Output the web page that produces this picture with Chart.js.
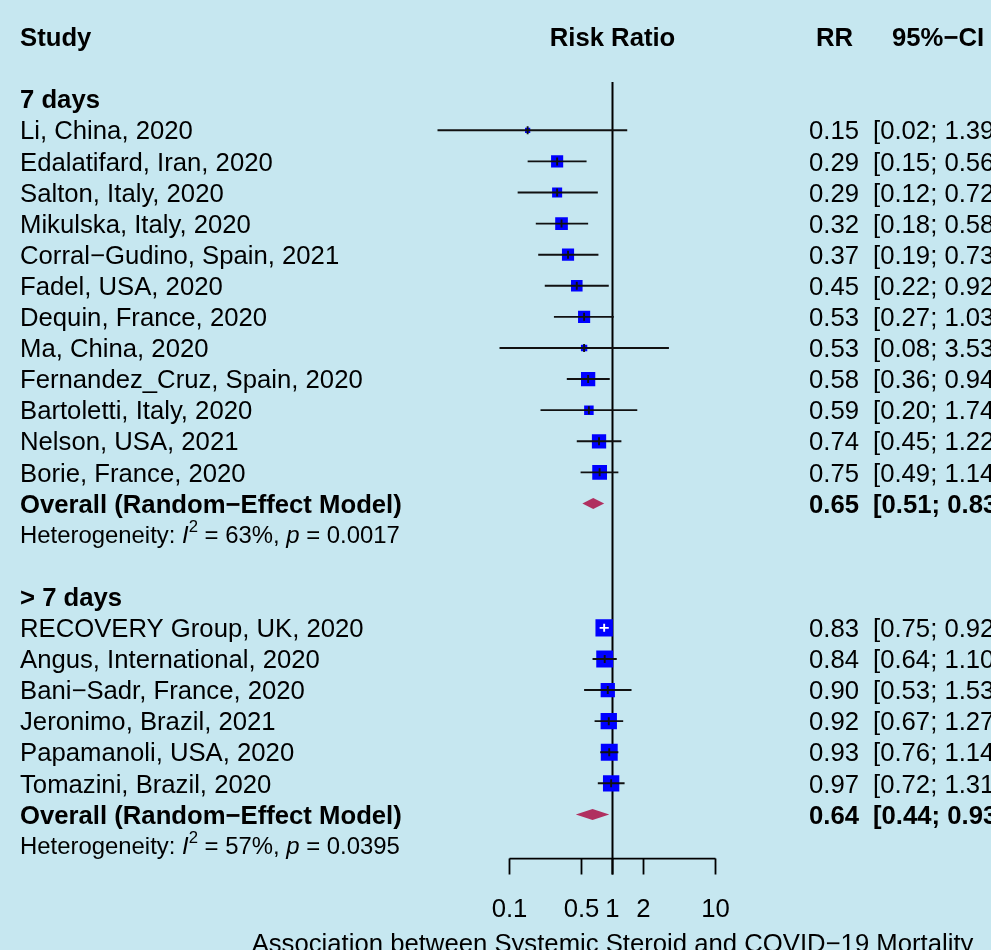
<!DOCTYPE html>
<html>
<head>
<meta charset="utf-8">
<title>Forest plot: systemic steroids and COVID-19 mortality</title>
<script src="https://cdn.jsdelivr.net/npm/chart.js@4.4.1/dist/chart.umd.min.js"></script>
<style>
  html, body { margin: 0; padding: 0; background: #c6e7f0; }
  canvas { display: block; }
</style>
</head>
<body>
<canvas id="forest" width="991" height="950"></canvas>
<script>
// ---- Data -------------------------------------------------------------
const groupNames = ['7 days', '> 7 days'];

const studyLabels = [
  'Li, China, 2020', 'Edalatifard, Iran, 2020', 'Salton, Italy, 2020',
  'Mikulska, Italy, 2020', 'Corral\u2212Gudino, Spain, 2021', 'Fadel, USA, 2020',
  'Dequin, France, 2020', 'Ma, China, 2020', 'Fernandez_Cruz, Spain, 2020',
  'Bartoletti, Italy, 2020', 'Nelson, USA, 2021', 'Borie, France, 2020',
  'RECOVERY Group, UK, 2020', 'Angus, International, 2020', 'Bani\u2212Sadr, France, 2020',
  'Jeronimo, Brazil, 2021', 'Papamanoli, USA, 2020', 'Tomazini, Brazil, 2020'
];
const studyGroup = [0, 0, 0, 0, 0, 0, 0, 0, 0, 0, 0, 0, 1, 1, 1, 1, 1, 1];
const riskRatio = [0.15, 0.29, 0.29, 0.32, 0.37, 0.45, 0.53, 0.53, 0.58, 0.59, 0.74, 0.75,
                   0.83, 0.84, 0.90, 0.92, 0.93, 0.97];
const ciLower   = [0.02, 0.15, 0.12, 0.18, 0.19, 0.22, 0.27, 0.08, 0.36, 0.20, 0.45, 0.49,
                   0.75, 0.64, 0.53, 0.67, 0.76, 0.72];
const ciUpper   = [1.39, 0.56, 0.72, 0.58, 0.73, 0.92, 1.03, 3.53, 0.94, 1.74, 1.22, 1.14,
                   0.92, 1.10, 1.53, 1.27, 1.14, 1.31];
// relative study weights (box area is proportional to weight)
const studyWeight = [1.9, 10.2, 7.0, 11.1, 10.2, 9.3, 10.2, 2.8, 14.1, 6.3, 14.1, 15.1,
                     21.0, 19.8, 14.1, 18.5, 19.8, 18.5];

const pooledRR    = [0.65, 0.64];
const pooledLower = [0.51, 0.44];
const pooledUpper = [0.83, 0.93];
const hetI2 = [63, 57];
const hetP  = ['0.0017', '0.0395'];

const xTicks = [0.1, 0.5, 1, 2, 10];
const xTickLabels = ['0.1', '0.5', '1', '2', '10'];
const axisTitle = 'Association between Systemic Steroid and COVID\u221219 Mortality';

// ---- Row layout (row index -> y value on the row scale) -----------------
const rows = [];
rows.push({ type: 'header' });
rows.push({ type: 'blank' });
groupNames.forEach((g, gi) => {
  if (gi > 0) rows.push({ type: 'blank' });
  rows.push({ type: 'group', label: g });
  studyGroup.forEach((sg, i) => { if (sg === gi) rows.push({ type: 'study', idx: i }); });
  rows.push({ type: 'pooled', idx: gi });
  rows.push({ type: 'het', idx: gi });
});

const studyPoints = [];
rows.forEach((r, ri) => { if (r.type === 'study') studyPoints.push({ x: riskRatio[r.idx], y: ri, idx: r.idx }); });

// ---- Style ----------------------------------------------------------------
const FONT = '"Liberation Sans", Arial, Helvetica, sans-serif';
const FS = 25.7;
const HET_FS = 23.9;
const BG = '#c6e7f0';
const BOX = '#0000ff';
const DIAMOND = '#b03060';
const BOX_SCALE = 3.8;     // box side = BOX_SCALE * sqrt(weight)

const COL_STUDY = 20, COL_RR = 809, COL_CI = 873, COL_RR_HEAD = 816, COL_CI_HEAD = 892;
const REF_TOP_ROW = 1.45, AXIS_ROW = 26.42, TICK_LEN = 16;
const TICKLABEL_BASE = 917, TITLE_BASE = 952;

function boxSide(i) { return BOX_SCALE * Math.sqrt(studyWeight[i]); }
function font(size, weight, style) { return (style || '') + ' ' + (weight || 'normal') + ' ' + size + 'px ' + FONT; }
function textAt(ctx, str, x, yMid, size, weight, align) {
  ctx.font = font(size, weight);
  ctx.textAlign = align || 'left';
  ctx.textBaseline = 'alphabetic';
  ctx.fillText(str, x, yMid + 0.358 * size);
}

const forestPlugin = {
  id: 'forest',
  beforeDraw(chart) {
    const ctx = chart.ctx;
    ctx.save();
    ctx.fillStyle = BG;
    ctx.fillRect(0, 0, chart.width, chart.height);
    ctx.restore();
  },
  beforeDatasetsDraw(chart) {
    const { ctx, scales: { x, y } } = chart;
    ctx.save();
    ctx.strokeStyle = '#000';
    ctx.lineWidth = 2;
    const xr = x.getPixelForValue(1);
    ctx.beginPath();
    ctx.moveTo(xr, y.getPixelForValue(REF_TOP_ROW));
    ctx.lineTo(xr, y.getPixelForValue(AXIS_ROW) + TICK_LEN);
    ctx.stroke();
    ctx.restore();
  },
  afterDatasetsDraw(chart) {
    const { ctx, scales: { x, y } } = chart;
    ctx.save();
    // confidence intervals over the boxes
    studyPoints.forEach(p => {
      const i = p.idx;
      const yc = y.getPixelForValue(p.y);
      const xl = x.getPixelForValue(ciLower[i]);
      const xu = x.getPixelForValue(ciUpper[i]);
      const xe = x.getPixelForValue(riskRatio[i]);
      const half = boxSide(i) / 2;
      const inside = xl >= xe - half && xu <= xe + half;
      ctx.strokeStyle = inside ? '#ffffff' : '#111111';
      ctx.lineWidth = 1.9;
      ctx.beginPath();
      ctx.moveTo(xl, yc); ctx.lineTo(xu, yc);
      ctx.moveTo(xe, yc - 4); ctx.lineTo(xe, yc + 4);
      ctx.stroke();
    });
    // pooled estimates
    rows.forEach((r, ri) => {
      if (r.type !== 'pooled') return;
      const yc = y.getPixelForValue(ri);
      const h = 5.5;
      ctx.fillStyle = DIAMOND;
      ctx.beginPath();
      ctx.moveTo(x.getPixelForValue(pooledLower[r.idx]), yc);
      ctx.lineTo(x.getPixelForValue(pooledRR[r.idx]), yc - h);
      ctx.lineTo(x.getPixelForValue(pooledUpper[r.idx]), yc);
      ctx.lineTo(x.getPixelForValue(pooledRR[r.idx]), yc + h);
      ctx.closePath();
      ctx.fill();
    });
    ctx.restore();
  },
  afterDraw(chart) {
    const { ctx, scales: { x, y } } = chart;
    ctx.save();
    ctx.fillStyle = '#000';
    const xr = x.getPixelForValue(1);

    rows.forEach((r, ri) => {
      const yc = y.getPixelForValue(ri);
      if (r.type === 'header') {
        textAt(ctx, 'Study', COL_STUDY, yc, FS, 'bold');
        textAt(ctx, 'Risk Ratio', xr, yc, FS, 'bold', 'center');
        textAt(ctx, 'RR', COL_RR_HEAD, yc, FS, 'bold');
        textAt(ctx, '95%\u2212CI', COL_CI_HEAD, yc, FS, 'bold');
      } else if (r.type === 'group') {
        textAt(ctx, r.label, COL_STUDY, yc, FS, 'bold');
      } else if (r.type === 'study') {
        const i = r.idx;
        textAt(ctx, studyLabels[i], COL_STUDY, yc, FS);
        textAt(ctx, riskRatio[i].toFixed(2), COL_RR, yc, FS);
        textAt(ctx, '[' + ciLower[i].toFixed(2) + '; ' + ciUpper[i].toFixed(2) + ']', COL_CI, yc, FS);
      } else if (r.type === 'pooled') {
        const g = r.idx;
        textAt(ctx, 'Overall (Random\u2212Effect Model)', COL_STUDY, yc, FS, 'bold');
        textAt(ctx, pooledRR[g].toFixed(2), COL_RR, yc, FS, 'bold');
        textAt(ctx, '[' + pooledLower[g].toFixed(2) + '; ' + pooledUpper[g].toFixed(2) + ']', COL_CI, yc, FS, 'bold');
      } else if (r.type === 'het') {
        const g = r.idx;
        const base = yc + 0.358 * HET_FS;
        const parts = [
          ['Heterogeneity: ', font(HET_FS), 0],
          ['I', font(HET_FS, 'normal', 'italic'), 0],
          ['2', font(HET_FS * 0.7), -0.45 * HET_FS],
          [' = ' + hetI2[g] + '%, ', font(HET_FS), 0],
          ['p', font(HET_FS, 'normal', 'italic'), 0],
          [' = ' + hetP[g], font(HET_FS), 0]
        ];
        let cx = COL_STUDY;
        ctx.textAlign = 'left';
        ctx.textBaseline = 'alphabetic';
        parts.forEach(([s, f, dy]) => {
          ctx.font = f;
          ctx.fillText(s, cx, base + dy);
          cx += ctx.measureText(s).width;
        });
      }
    });

    // x axis
    const ya = y.getPixelForValue(AXIS_ROW);
    ctx.strokeStyle = '#000';
    ctx.lineWidth = 1.8;
    ctx.beginPath();
    ctx.moveTo(x.getPixelForValue(xTicks[0]), ya);
    ctx.lineTo(x.getPixelForValue(xTicks[xTicks.length - 1]), ya);
    xTicks.forEach(t => {
      const px = x.getPixelForValue(t);
      ctx.moveTo(px, ya);
      ctx.lineTo(px, ya + TICK_LEN);
    });
    ctx.stroke();
    ctx.font = font(FS);
    ctx.textAlign = 'center';
    ctx.textBaseline = 'alphabetic';
    xTicks.forEach((t, k) => ctx.fillText(xTickLabels[k], x.getPixelForValue(t), TICKLABEL_BASE));
    ctx.fillText(axisTitle, xr, TITLE_BASE);
    ctx.restore();
  }
};

new Chart(document.getElementById('forest'), {
  type: 'scatter',
  data: {
    datasets: [{
      label: 'Studies',
      data: studyPoints,
      pointStyle: 'rect',
      pointRadius: studyPoints.map(p => boxSide(p.idx) / (2 * Math.SQRT1_2)),
      pointHoverRadius: studyPoints.map(p => boxSide(p.idx) / (2 * Math.SQRT1_2)),
      backgroundColor: BOX,
      borderWidth: 0,
      showLine: false
    }]
  },
  options: {
    responsive: false,
    devicePixelRatio: 1,
    animation: false,
    events: [],
    layout: { autoPadding: false, padding: { left: 406.5, right: 172.5, top: 0, bottom: 0 } },
    plugins: { legend: { display: false }, tooltip: { enabled: false } },
    scales: {
      x: { type: 'logarithmic', min: 0.01, max: 100, display: false },
      y: { type: 'linear', min: -1.19, max: 29.36, reverse: true, display: false }
    }
  },
  plugins: [forestPlugin]
});
</script>
</body>
</html>
